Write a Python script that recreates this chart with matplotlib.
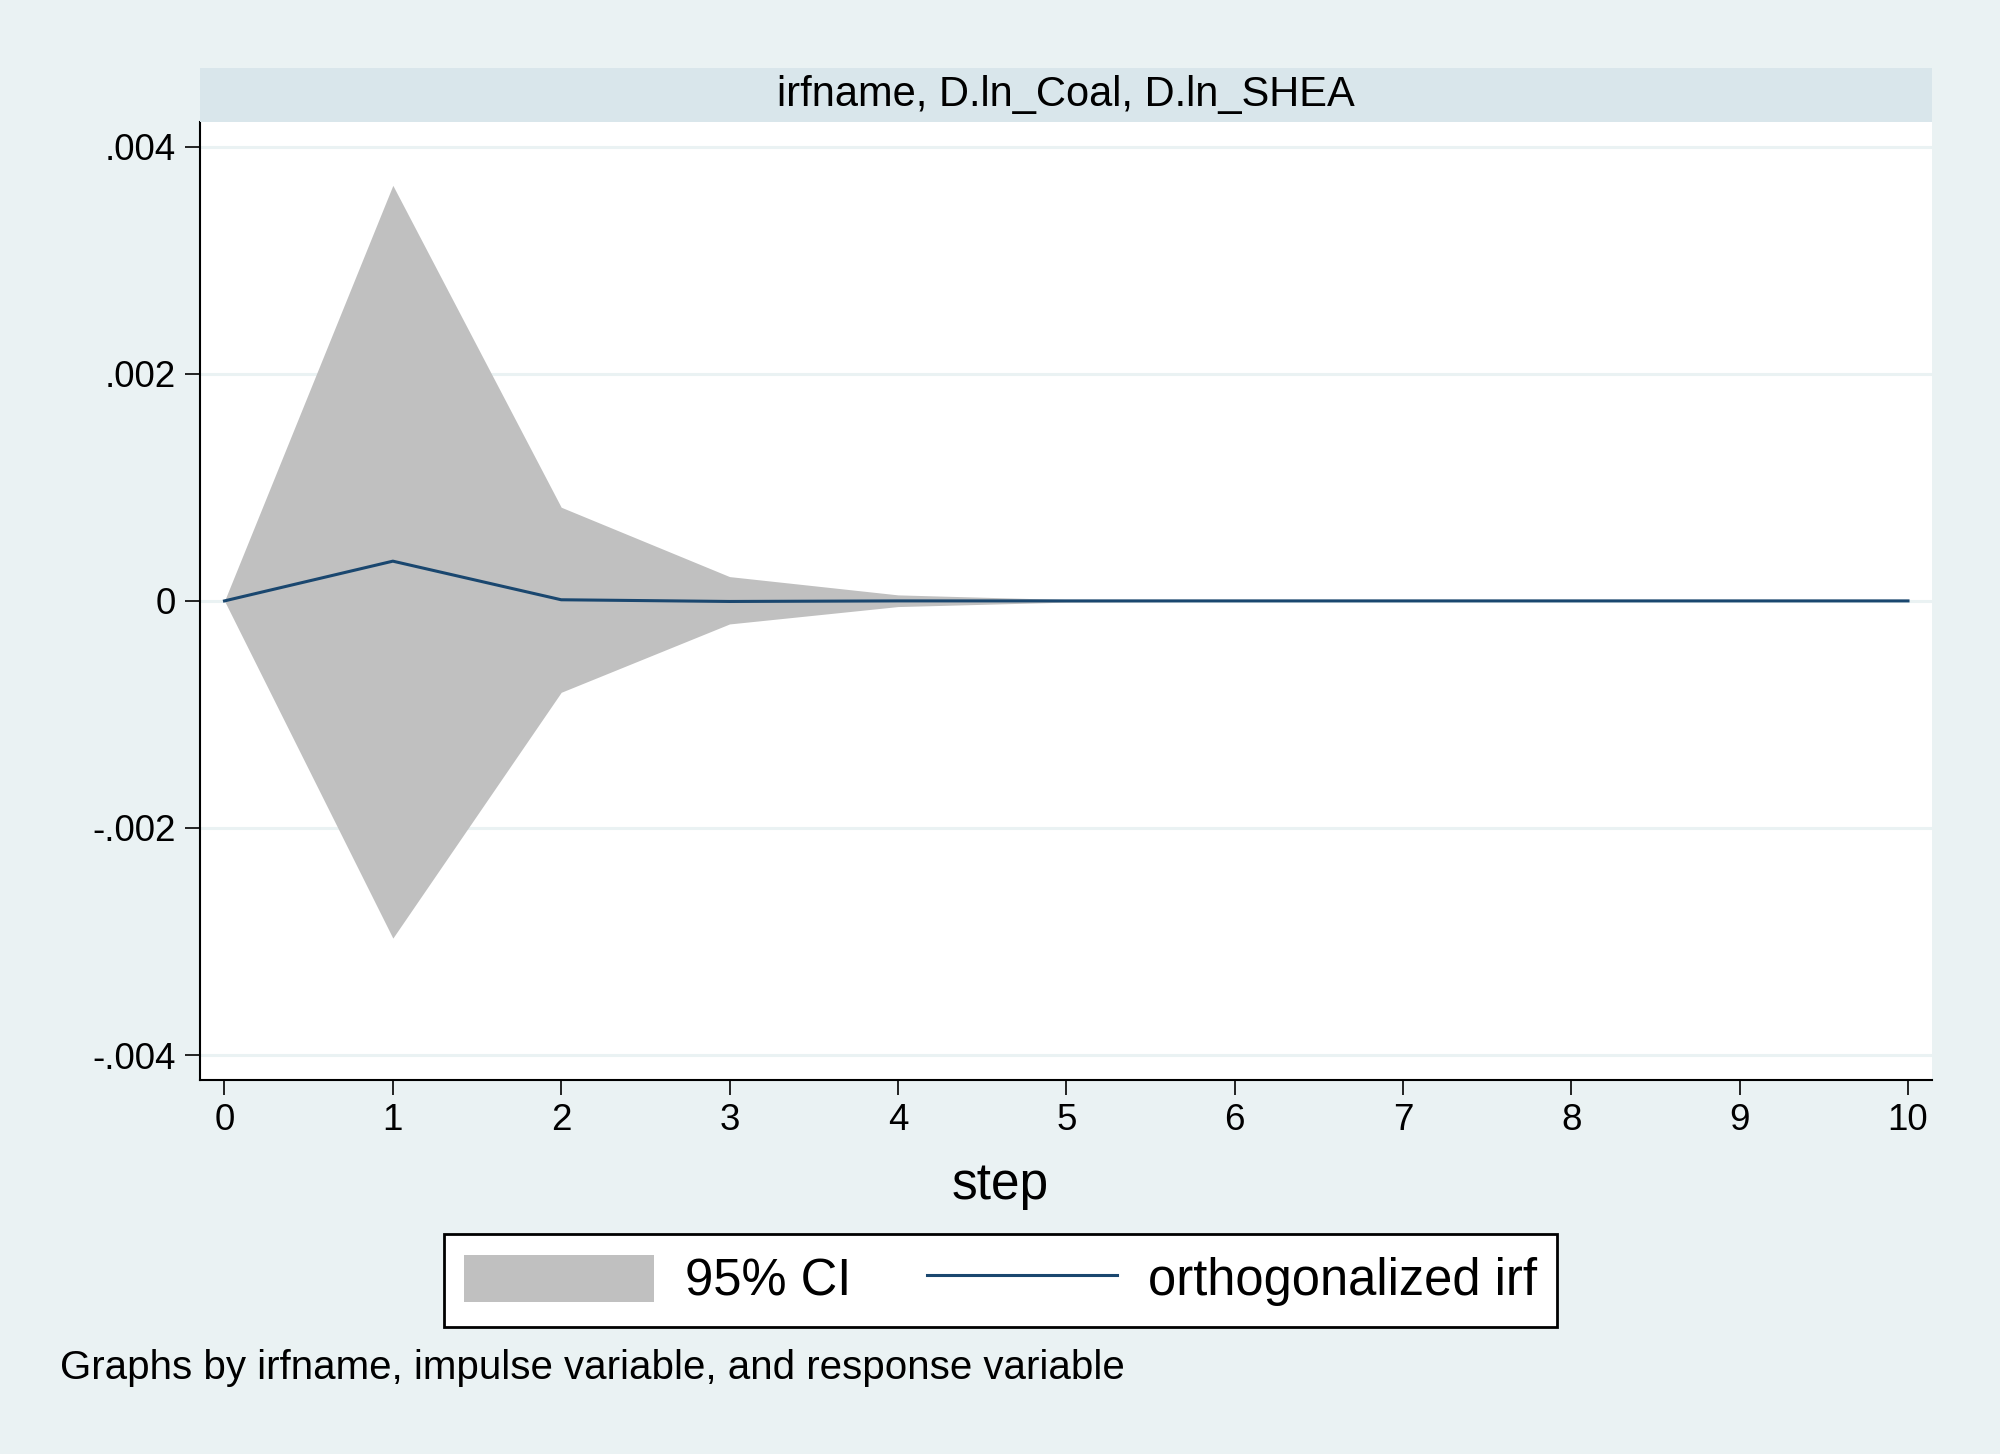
# IRF plot, stata-style

import numpy as np
import matplotlib.pyplot as plt
from matplotlib.patches import Rectangle

plt.rcParams['font.family'] = ['Liberation Sans', 'DejaVu Sans']

# data
steps = [0, 1, 2, 3, 4, 5, 6, 7, 8, 9, 10]
irf = [0, 0.00035, 0.00001, -0.000005, 0.0, 0.0, 0.0, 0.0, 0.0, 0.0, 0.0]
ci_upper = [0, 0.00366, 0.000825, 0.000214, 0.000053, 0.000012, 0.000003, 0.000001, 0.0, 0.0, 0.0]
ci_lower = [0, -0.00297, -0.000805, -0.000203, -0.00005, -0.000011, -0.000003, -0.000001, 0.0, 0.0, 0.0]
yticks = [-0.004, -0.002, 0, 0.002, 0.004]
ylabels = ['-.004', '-.002', '0', '.002', '.004']
title = 'irfname, D.ln_Coal, D.ln_SHEA'

bg = '#EAF2F3'
navy = '#1A476F'

fig = plt.figure(figsize=(20, 14.54), dpi=100, facecolor=bg)
ax = fig.add_axes([0.1, 0.2572, 0.866, 0.6589])
ax.set_facecolor('white')

ax.fill_between(steps, ci_lower, ci_upper, color='#C0C0C0', linewidth=0, label='95% CI')
ax.plot(steps, irf, color=navy, linewidth=2.2, label='orthogonalized irf')

ax.set_xlim(-0.1455, 10.1426)
ax.set_ylim(-0.00422, 0.004218)
ax.set_xticks(steps)
ax.set_yticks(yticks)
ax.set_yticklabels(ylabels)
ax.tick_params(axis='both', labelsize=26.5, length=10.5, width=1.2, color='black')
ax.tick_params(axis='y', pad=7)
ax.tick_params(axis='x', pad=6)
ax.grid(axis='y', color=bg, linewidth=2.2)
ax.set_axisbelow(True)

for s in ['top', 'right']:
    ax.spines[s].set_visible(False)
for s in ['left', 'bottom']:
    ax.spines[s].set_linewidth(1.5)
    ax.spines[s].set_color('black')

# axis title is centred on the whole graph, not the plot region
fig.text(0.5, 1 - 1186 / 1454, 'step', ha='center', va='center', fontsize=37)

# title strip above the panel
fig.patches.append(Rectangle((0.1, 1 - 122 / 1454), 0.866, 54 / 1454,
                             transform=fig.transFigure, facecolor='#D9E6EB',
                             edgecolor='none'))
fig.text(0.1 + 0.866 / 2, 1 - 95 / 1454, title, ha='center', va='center', fontsize=30)

leg = fig.legend(loc='center', bbox_to_anchor=(0.5003, 1 - 1280.5 / 1454), ncol=2,
                 fontsize=36.5, frameon=True, fancybox=False, edgecolor='black',
                 handlelength=3.75, handleheight=1.05, handletextpad=0.6,
                 columnspacing=1.5, borderpad=0.4)
leg.get_frame().set_linewidth(2)
leg.get_frame().set_alpha(1)

fig.text(60 / 2000, 1 - 1368 / 1454, 'Graphs by irfname, impulse variable, and response variable',
         ha='left', va='center', fontsize=29)

plt.savefig('out.png', dpi=100, facecolor=bg)
